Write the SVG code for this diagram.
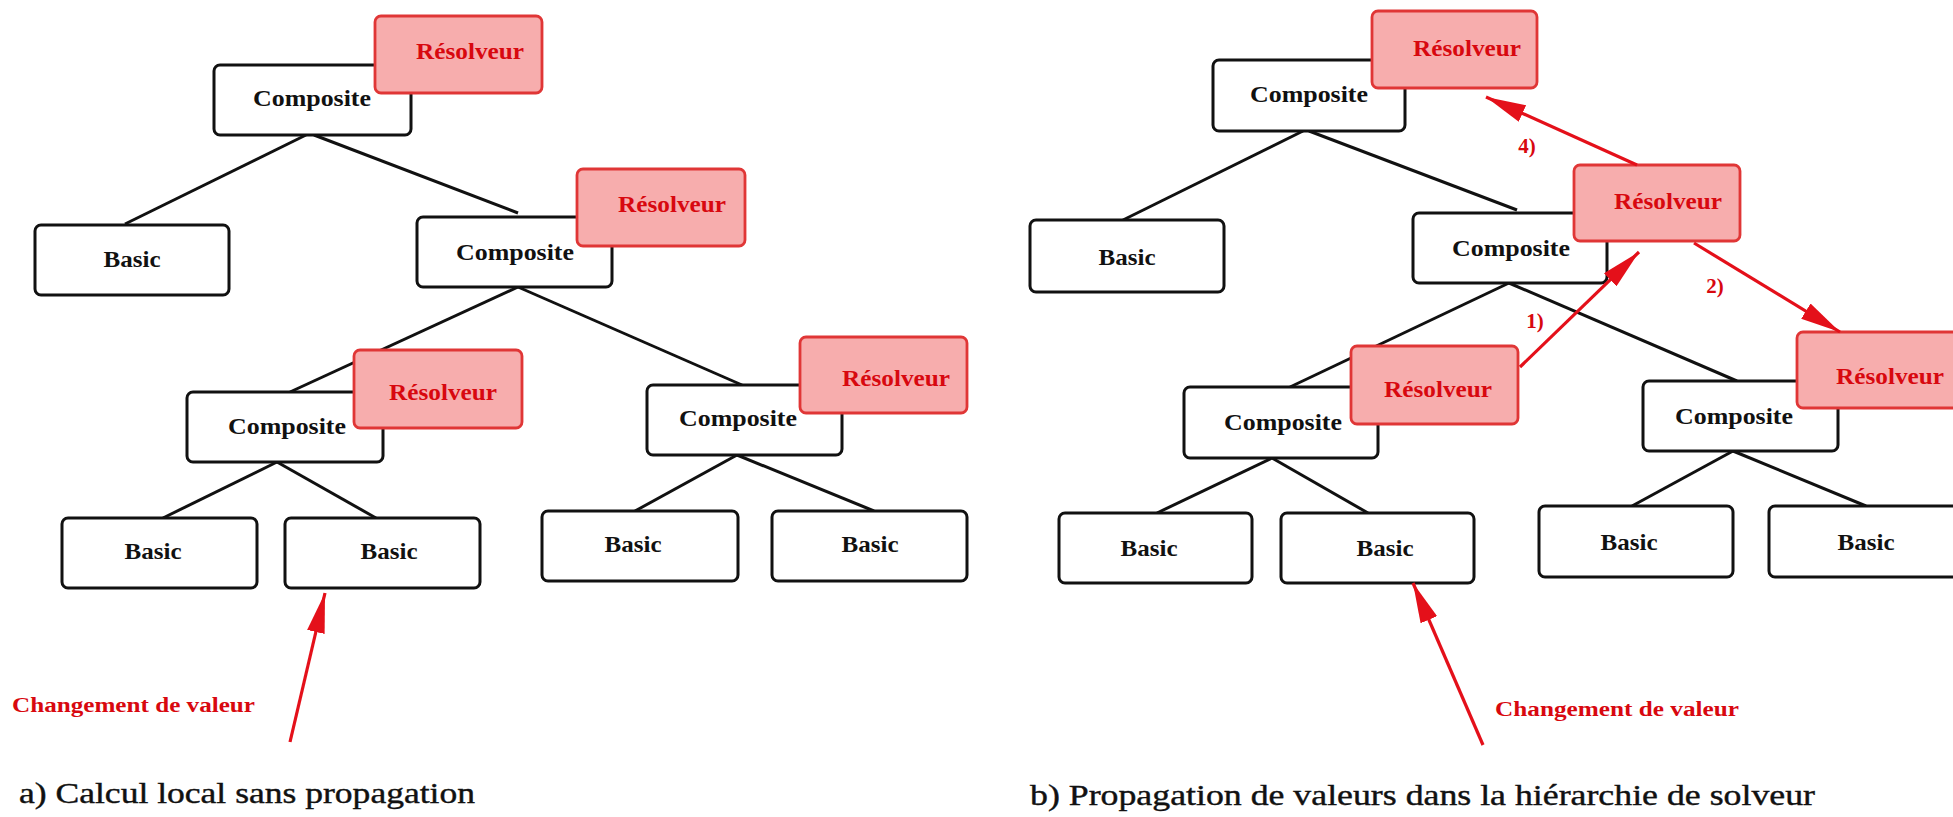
<svg xmlns="http://www.w3.org/2000/svg" width="1953" height="817" viewBox="0 0 1953 817">
  <style>
    .box { fill: #ffffff; stroke: #111111; stroke-width: 3; }
    .res { fill: #f7adad; stroke: #e03636; stroke-width: 2.8; }
    .lbl { font-family: "Liberation Serif", "Times New Roman", serif; font-weight: bold; font-size: 24px; text-anchor: middle; fill: #111111; }
    .rlbl { fill: #d8080f; }
    .edge { stroke: #111111; stroke-width: 3; fill: none; }
    .flow { stroke: #e4101a; stroke-width: 3.2; fill: none; marker-end: url(#head); }
    .note { font-family: "Liberation Serif", "Times New Roman", serif; font-weight: bold; font-size: 20px; fill: #d8080f; }
    .step { font-family: "Liberation Serif", "Times New Roman", serif; font-weight: bold; font-size: 21px; fill: #d8080f; text-anchor: middle; }
    .caption { font-family: "Liberation Serif", "Times New Roman", serif; font-size: 29px; fill: #111111; stroke: #111111; stroke-width: 0.4; }
  </style>
  <defs>
    <marker id="head" viewBox="0 0 40 18" refX="40" refY="9" markerWidth="40" markerHeight="18" markerUnits="userSpaceOnUse" orient="auto">
      <path d="M0,0 L40,9 L0,18 Z" fill="#e4101a"/>
    </marker>
  </defs>
  <rect width="1953" height="817" fill="#ffffff"/>

  <!-- tree links (drawn under the boxes) -->
  <g id="connectors">
    <!-- left tree -->
    <line class="edge" x1="306" y1="135" x2="125" y2="224"/>
    <line class="edge" x1="314" y1="135" x2="518" y2="213"/>
    <line class="edge" x1="518" y1="287" x2="290" y2="392"/>
    <line class="edge" x1="518" y1="287" x2="742" y2="385"/>
    <line class="edge" x1="277" y1="462" x2="163" y2="518"/>
    <line class="edge" x1="277" y1="462" x2="376" y2="518"/>
    <line class="edge" x1="737" y1="455" x2="635" y2="511"/>
    <line class="edge" x1="737" y1="455" x2="874" y2="511"/>
    <!-- right tree -->
    <line class="edge" x1="1303" y1="131" x2="1123" y2="220"/>
    <line class="edge" x1="1309" y1="131" x2="1517" y2="210"/>
    <line class="edge" x1="1509" y1="283" x2="1290" y2="387"/>
    <line class="edge" x1="1509" y1="283" x2="1737" y2="381"/>
    <line class="edge" x1="1272" y1="458" x2="1157" y2="513"/>
    <line class="edge" x1="1272" y1="458" x2="1368" y2="513"/>
    <line class="edge" x1="1733" y1="451" x2="1632" y2="506"/>
    <line class="edge" x1="1733" y1="451" x2="1866" y2="506"/>
  </g>

  <!-- a) local computation -->
  <g id="a-composite-root"><rect class="box" x="214" y="65" width="197" height="70" rx="6"/><text class="lbl" x="312" y="106" textLength="118" lengthAdjust="spacingAndGlyphs">Composite</text></g>
  <g id="a-basic-1"><rect class="box" x="35" y="225" width="194" height="70" rx="6"/><text class="lbl" x="132" y="267" textLength="57" lengthAdjust="spacingAndGlyphs">Basic</text></g>
  <g id="a-composite-mid"><rect class="box" x="417" y="217" width="195" height="70" rx="6"/><text class="lbl" x="515" y="260" textLength="118" lengthAdjust="spacingAndGlyphs">Composite</text></g>
  <g id="a-composite-left"><rect class="box" x="187" y="392" width="196" height="70" rx="6"/><text class="lbl" x="287" y="434" textLength="118" lengthAdjust="spacingAndGlyphs">Composite</text></g>
  <g id="a-composite-right"><rect class="box" x="647" y="385" width="195" height="70" rx="6"/><text class="lbl" x="738" y="426" textLength="118" lengthAdjust="spacingAndGlyphs">Composite</text></g>
  <g id="a-basic-2"><rect class="box" x="62" y="518" width="195" height="70" rx="6"/><text class="lbl" x="153" y="559" textLength="57" lengthAdjust="spacingAndGlyphs">Basic</text></g>
  <g id="a-basic-3"><rect class="box" x="285" y="518" width="195" height="70" rx="6"/><text class="lbl" x="389" y="559" textLength="57" lengthAdjust="spacingAndGlyphs">Basic</text></g>
  <g id="a-basic-4"><rect class="box" x="542" y="511" width="196" height="70" rx="6"/><text class="lbl" x="633" y="552" textLength="57" lengthAdjust="spacingAndGlyphs">Basic</text></g>
  <g id="a-basic-5"><rect class="box" x="772" y="511" width="195" height="70" rx="6"/><text class="lbl" x="870" y="552" textLength="57" lengthAdjust="spacingAndGlyphs">Basic</text></g>

  <g id="a-solver-root"><rect class="res" x="375" y="16" width="167" height="77" rx="6"/><text class="lbl rlbl" x="470" y="59" textLength="108" lengthAdjust="spacingAndGlyphs">Résolveur</text></g>
  <g id="a-solver-mid"><rect class="res" x="577" y="169" width="168" height="77" rx="6"/><text class="lbl rlbl" x="672" y="212" textLength="108" lengthAdjust="spacingAndGlyphs">Résolveur</text></g>
  <g id="a-solver-left"><rect class="res" x="354" y="350" width="168" height="78" rx="6"/><text class="lbl rlbl" x="443" y="400" textLength="108" lengthAdjust="spacingAndGlyphs">Résolveur</text></g>
  <g id="a-solver-right"><rect class="res" x="800" y="337" width="167" height="76" rx="6"/><text class="lbl rlbl" x="896" y="386" textLength="108" lengthAdjust="spacingAndGlyphs">Résolveur</text></g>

  <!-- b) propagation through the solver hierarchy -->
  <g id="b-composite-root"><rect class="box" x="1213" y="60" width="192" height="71" rx="6"/><text class="lbl" x="1309" y="102" textLength="118" lengthAdjust="spacingAndGlyphs">Composite</text></g>
  <g id="b-basic-1"><rect class="box" x="1030" y="220" width="194" height="72" rx="6"/><text class="lbl" x="1127" y="265" textLength="57" lengthAdjust="spacingAndGlyphs">Basic</text></g>
  <g id="b-composite-mid"><rect class="box" x="1413" y="213" width="194" height="70" rx="6"/><text class="lbl" x="1511" y="256" textLength="118" lengthAdjust="spacingAndGlyphs">Composite</text></g>
  <g id="b-composite-left"><rect class="box" x="1184" y="387" width="194" height="71" rx="6"/><text class="lbl" x="1283" y="430" textLength="118" lengthAdjust="spacingAndGlyphs">Composite</text></g>
  <g id="b-composite-right"><rect class="box" x="1643" y="381" width="195" height="70" rx="6"/><text class="lbl" x="1734" y="424" textLength="118" lengthAdjust="spacingAndGlyphs">Composite</text></g>
  <g id="b-basic-2"><rect class="box" x="1059" y="513" width="193" height="70" rx="6"/><text class="lbl" x="1149" y="556" textLength="57" lengthAdjust="spacingAndGlyphs">Basic</text></g>
  <g id="b-basic-3"><rect class="box" x="1281" y="513" width="193" height="70" rx="6"/><text class="lbl" x="1385" y="556" textLength="57" lengthAdjust="spacingAndGlyphs">Basic</text></g>
  <g id="b-basic-4"><rect class="box" x="1539" y="506" width="194" height="71" rx="6"/><text class="lbl" x="1629" y="550" textLength="57" lengthAdjust="spacingAndGlyphs">Basic</text></g>
  <g id="b-basic-5"><rect class="box" x="1769" y="506" width="194" height="71" rx="6"/><text class="lbl" x="1866" y="550" textLength="57" lengthAdjust="spacingAndGlyphs">Basic</text></g>

  <g id="b-solver-root"><rect class="res" x="1372" y="11" width="165" height="77" rx="6"/><text class="lbl rlbl" x="1467" y="56" textLength="108" lengthAdjust="spacingAndGlyphs">Résolveur</text></g>
  <g id="b-solver-mid"><rect class="res" x="1574" y="165" width="166" height="76" rx="6"/><text class="lbl rlbl" x="1668" y="209" textLength="108" lengthAdjust="spacingAndGlyphs">Résolveur</text></g>
  <g id="b-solver-left"><rect class="res" x="1351" y="346" width="167" height="78" rx="6"/><text class="lbl rlbl" x="1438" y="397" textLength="108" lengthAdjust="spacingAndGlyphs">Résolveur</text></g>
  <g id="b-solver-right"><rect class="res" x="1797" y="332" width="166" height="76" rx="6"/><text class="lbl rlbl" x="1890" y="384" textLength="108" lengthAdjust="spacingAndGlyphs">Résolveur</text></g>

  <!-- value change and propagation arrows -->
  <g id="flows">
    <line class="flow" x1="290" y1="742" x2="325" y2="593"/>
    <line class="flow" x1="1483" y1="745" x2="1413" y2="583"/>
    <line class="flow" x1="1520" y1="367" x2="1639" y2="252"/>
    <line class="flow" x1="1694" y1="243" x2="1840" y2="332"/>
    <line class="flow" x1="1637" y1="165" x2="1486" y2="97"/>
    <text class="step" x="1535" y="328">1)</text>
    <text class="step" x="1715" y="293">2)</text>
    <text class="step" x="1527" y="153">4)</text>
  </g>

  <g id="notes">
    <text class="note" x="12" y="712" textLength="243" lengthAdjust="spacingAndGlyphs">Changement de valeur</text>
    <text class="note" x="1495" y="716" textLength="244" lengthAdjust="spacingAndGlyphs">Changement de valeur</text>
    <text class="caption" x="19" y="803" textLength="456" lengthAdjust="spacingAndGlyphs">a) Calcul local sans propagation</text>
    <text class="caption" x="1030" y="805" textLength="785" lengthAdjust="spacingAndGlyphs">b) Propagation de valeurs dans la hiérarchie de solveur</text>
  </g>
</svg>
